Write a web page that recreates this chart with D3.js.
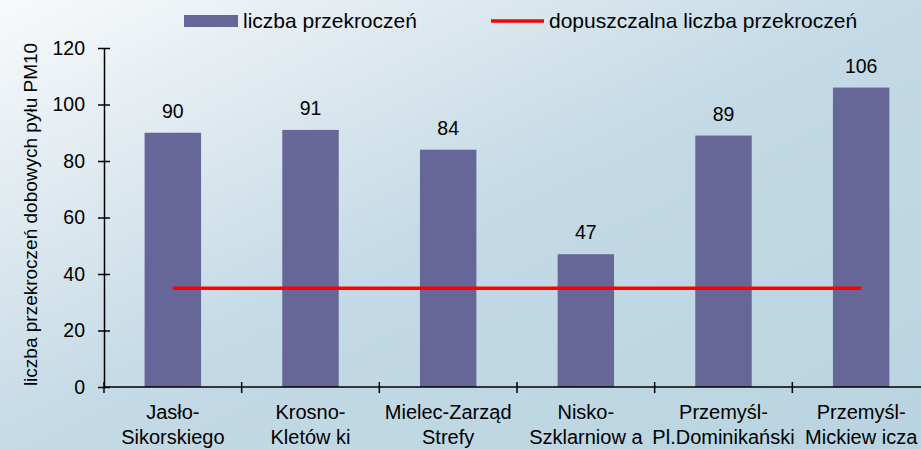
<!DOCTYPE html>
<html><head><meta charset="utf-8">
<script src="https://cdn.jsdelivr.net/npm/d3@7"></script>
<style>html,body{margin:0;padding:0;overflow:hidden;background:#fff}svg{display:block}text{font-family:Arial,"Liberation Sans",sans-serif;fill:#000}</style>
</head><body>
<script>
const categories = [["Jasło-","Sikorskiego"],["Krosno-","Kletów ki"],["Mielec-Zarząd","Strefy"],["Nisko-","Szklarniow a"],["Przemyśl-","Pl.Dominikański"],["Przemyśl-","Mickiew icza"]];
const values = [90, 91, 84, 47, 89, 106];
const limitValue = 35;
const yTicks = [0, 20, 40, 60, 80, 100, 120];
const seriesNames = ["liczba przekroczeń", "dopuszczalna liczba przekroczeń"];
const yTitle = "liczba przekroczeń dobowych pyłu PM10";

const W = 921, H = 449;
const svg = d3.select("body").append("svg").attr("width", W).attr("height", H);
const defs = svg.append("defs");
const g = defs.append("linearGradient").attr("id","bg").attr("x1",0).attr("y1",0).attr("x2",1).attr("y2",1);
[[0,"#f8fafc"],[0.25,"#dfe9ef"],[0.5,"#c4dae6"],[1,"#b8d4e0"]].forEach(s=>g.append("stop").attr("offset",s[0]).attr("stop-color",s[1]));
svg.append("rect").attr("width",W).attr("height",H).attr("fill","url(#bg)");

const x0 = 104, x1 = 930, yTop = 48, yBot = 387;
const xIdx = d3.scaleLinear().domain([0, categories.length]).range([x0, x1]);
const xBand = d3.scaleBand().domain(d3.range(categories.length)).range([x0, x1]).paddingInner(0.59).paddingOuter(0.295);
const y = d3.scaleLinear().domain([0, 120]).range([yBot, yTop]);
const barColor = "#666699", lineColor = "#ff0000";

// bars
svg.append("g").selectAll("rect").data(values).join("rect")
  .attr("x",(d,i)=>xBand(i)).attr("width",xBand.bandwidth())
  .attr("y",d=>y(d)).attr("height",d=>y(0)-y(d)).attr("fill",barColor);

// value labels
svg.append("g").selectAll("text").data(values).join("text")
  .attr("x",(d,i)=>xBand(i)+xBand.bandwidth()/2).attr("y",d=>y(d)-15)
  .attr("text-anchor","middle").style("font-size","19.5px").text(d=>d);

// limit line
const centers = values.map((d,i)=>xBand(i)+xBand.bandwidth()/2);
svg.append("path").datum(values.map((d,i)=>[centers[i], limitValue]))
  .attr("d", d3.line().x(d=>d[0]).y(d=>y(d[1])))
  .attr("stroke",lineColor).attr("stroke-width",3.5).attr("fill","none");

// y axis
const yAxis = svg.append("g").attr("transform",`translate(${x0},0)`)
  .call(d3.axisLeft(y).tickValues(yTicks).tickSize(6).tickSizeOuter(0).tickPadding(13));
yAxis.select(".domain").attr("stroke","#000").attr("stroke-width",1.5);
yAxis.selectAll(".tick line").attr("stroke","#000").attr("stroke-width",1.5).attr("x1",-6).attr("x2",6);
yAxis.selectAll(".tick text").style("font-size","19.5px").attr("font-family",null);

// x axis line and boundary ticks
svg.append("line").attr("x1",x0).attr("x2",W).attr("y1",yBot).attr("y2",yBot).attr("stroke","#000").attr("stroke-width",1.5);
svg.append("g").selectAll("line").data(d3.range(categories.length+1)).join("line")
  .attr("x1",d=>xIdx(d)).attr("x2",d=>xIdx(d)).attr("y1",yBot-5).attr("y2",yBot+6)
  .attr("stroke","#000").attr("stroke-width",1.5);

// x labels
const xl = svg.append("g").selectAll("text").data(categories).join("text")
  .attr("x",(d,i)=>centers[i]).attr("y",419).attr("text-anchor","middle").style("font-size","20px");
xl.each(function(d,i){
  const t = d3.select(this);
  d.forEach((line,k)=>t.append("tspan").attr("x",centers[i]).attr("y",419+k*25).text(line));
});

// y title
svg.append("text").attr("transform",`translate(37,${(yTop+yBot)/2-3}) rotate(-90)`)
  .attr("text-anchor","middle").style("font-size","19px").text(yTitle);

// legend
const lg = svg.append("g");
lg.append("rect").attr("x",184).attr("y",15).attr("width",54).attr("height",12).attr("fill",barColor);
lg.append("text").attr("x",243).attr("y",28).style("font-size","21px").text(seriesNames[0]);
lg.append("line").attr("x1",491).attr("x2",544).attr("y1",21).attr("y2",21).attr("stroke",lineColor).attr("stroke-width",3.5);
lg.append("text").attr("x",549).attr("y",28).style("font-size","21px").text(seriesNames[1]);
</script>
</body></html>
